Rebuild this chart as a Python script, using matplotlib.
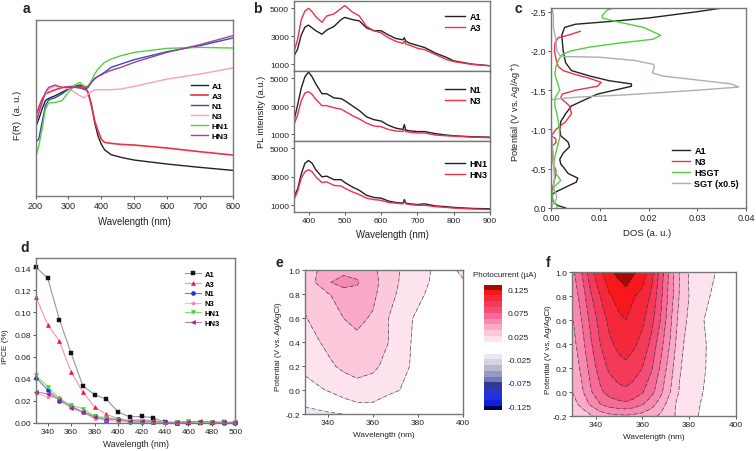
import matplotlib
matplotlib.use("Agg")
import matplotlib.pyplot as plt
import numpy as np
from matplotlib.colors import ListedColormap, BoundaryNorm

plt.rcParams['font.family'] = ['Liberation Sans', 'DejaVu Sans']
plt.rcParams['axes.unicode_minus'] = False
plt.rcParams['axes.edgecolor'] = '#777777'
plt.rcParams['axes.linewidth'] = 1.0

W, H = 756, 452

# panel a: diffuse reflectance
wl_a = [200,210,220,230,240,260,280,300,320,335,350,360,370,380,390,400,410,430,460,500,600,700,800]
a_A1 = [205,230,260,285,292,300,310,320,328,332,325,310,275,220,180,155,138,123,115,107,95,85,76]
a_A3 = [238,265,290,305,310,318,324,327,328,328,325,310,270,225,195,170,160,157,154,152,143,132,122]
a_N1 = [160,170,220,270,287,294,305,320,327,324,318,325,340,352,358,364,370,385,395,408,432,450,473]
a_N3 = [215,245,280,305,320,328,325,322,310,300,294,305,312,318,318,318,318,318,320,328,350,365,383]
a_HN1 = [112,150,200,260,278,280,285,310,332,340,328,328,345,365,380,390,400,410,420,430,442,445,443]
a_HN3 = [212,250,280,310,325,332,325,325,325,323,322,328,340,350,358,362,368,376,385,400,430,453,480]

# panel b: PL spectra
wl_b = [360,370,380,390,400,410,420,437,450,470,490,500,520,540,560,580,600,620,640,660,664,668,680,700,720,750,780,800,850,900]
b_A1 = [1600,2100,3100,3650,3800,3600,3400,3150,3450,3700,4200,4350,4200,4100,3600,3400,3400,3100,2850,2750,2900,2650,2500,2350,2200,1800,1500,1250,1020,900]
b_A3 = [1900,2800,4200,4800,5000,4750,4400,4000,4450,4600,5000,5200,4750,4450,3700,3400,3250,2900,2650,2500,2650,2450,2350,2150,2050,1700,1350,1200,1000,900]
b_N1 = [2000,3100,4300,5100,5450,5100,4600,3900,3900,3600,3550,3400,3050,2700,2250,2050,1950,1650,1450,1350,1700,1300,1250,1200,1200,1050,950,900,830,800]
b_N3 = [1700,2400,3400,3950,4050,3850,3500,3050,3050,2900,2800,2650,2350,2100,1800,1600,1550,1350,1250,1200,1350,1200,1150,1100,1100,950,900,870,800,760]
b_HN1 = [1600,2150,3200,3950,4150,3950,3500,3000,3050,2800,2800,2600,2300,2050,1700,1550,1500,1300,1200,1150,1400,1150,1100,1050,1100,950,900,850,780,750]
b_HN3 = [1400,2000,2900,3350,3500,3350,3000,2600,2650,2400,2350,2200,1950,1750,1500,1400,1350,1200,1150,1100,1250,1100,1050,1000,1000,900,850,800,740,700]

# panel c: density of states
v_A1 = [0,-.03,-.07,-.12,-.18,-.22,-.28,-.33,-.38,-.44,-.5,-.56,-.62,-.7,-.78,-.84,-.92,-1.0,-1.1,-1.2,-1.3,-1.38,-1.45,-1.5,-1.55,-1.58,-1.62,-1.68,-1.75,-1.85,-2.0,-2.2,-2.3,-2.34,-2.38,-2.42,-2.46,-2.5,-2.55]
c_A1 = [.003,.0015,.0005,.0003,.0003,.0015,.0035,.0052,.0055,.0035,.0028,.002,.0018,.0025,.0038,.0035,.002,.0018,.002,.003,.0042,.007,.0095,.013,.0165,.0165,.012,.008,.0042,.003,.0025,.0022,.0028,.005,.013,.02,.025,.03,.0355]
v_N3 = [-2.25,-2.2,-2.17,-2.1,-2.0,-1.9,-1.8,-1.75,-1.7,-1.65,-1.6,-1.55,-1.5,-1.45,-1.4,-1.3,-1.2,-1.1,-1.0,-.92,-.88,-.83,-.79,-.7,-.55,-.48,-.42,-.38,-.3,-.2]
c_N3 = [.006,.0035,.0015,.0008,.0007,.001,.0015,.0025,.005,.008,.0103,.0095,.005,.0023,.002,.0038,.0042,.003,.001,.0001,.001,.001,.0002,.0003,.0005,.001,.001,.0008,.0005,.0001]
v_HSGT = [-2.55,-2.52,-2.45,-2.42,-2.38,-2.3,-2.2,-2.15,-2.1,-2.05,-2.0,-1.95,-1.88,-1.8,-1.7,-1.6,-1.5,-1.4,-1.3,-1.2,-1.1,-1.0,-.9,-.8,-.7,-.6,-.52,-.45,-.4,-.35,-.28,-.2,-.1,-.03,0]
c_HSGT = [.013,.0115,.0105,.0105,.013,.019,.0225,.021,.014,.008,.004,.0022,.0015,.001,.0008,.0013,.0018,.0008,.0008,.0012,.0015,.0017,.0018,.0014,.001,.0006,.0006,.0008,.0015,.002,.0008,.0002,.0003,.0012,.0012]
v_SGT = [-2.55,-2.45,-2.3,-2.15,-2.0,-1.93,-1.92,-1.88,-1.83,-1.8,-1.72,-1.68,-1.63,-1.58,-1.54,-1.5,-1.44,-1.41,-1.38,-1.0,-.8,-.6,-.4,-.25,-.15,-.1,-.05,0]
c_SGT = [.0002,.0005,.0005,.001,.0012,.002,.01,.017,.021,.0212,.0208,.023,.03,.037,.0385,.03,.015,.005,0,.0001,.0003,.0005,.0007,.0005,.0012,.001,.0004,0]

# panel d: IPCE
wl_d = [330,340,350,360,370,380,390,400,410,420,430,440,450,460,470,480,490,500]
d_A1 = [.141,.131,.0935,.063,.0335,.0255,.0215,.0100,.0055,.0060,.0048,.0005,.0003,.0003,.0003,.0003,.0005,.0003]
d_A3 = [.114,.089,.074,.046,.028,.0145,.0078,.004,.002,.002,.001,.0012,.0003,.0006,.0005,.001,.0005,.001]
d_N1 = [.041,.030,.020,.015,.010,.006,.002,.004,.0005,.001,.001,.0005,.0003,.0005,.0005,.0005,.0003,.0003]
d_N3 = [.027,.0235,.0235,.0135,.0095,.004,.003,.001,.003,.003,.002,.001,.0003,.001,.0005,.001,.0005,.0005]
d_HN1 = [.043,.033,.022,.016,.013,.006,.005,.003,.0005,.001,.001,0,.001,.0015,.0005,.0005,.0005,.0003]
d_HN3 = [.028,.0265,.021,.014,.010,.005,.004,.003,.002,.002,.002,.0005,.0005,.001,.0015,.001,.0005,.0005]

# panel e: photocurrent map, in units of 0.0125 uA
wl_e = [330,340,347,353,360,367,372,377,385,392,400]
pot_e = [-0.2,-0.1,0.0,0.2,0.4,0.6,0.8,0.9,1.0]
z_e = [
    [-1.6,-1.3,-1.02,-0.8,-0.7,-0.7,-0.5,-0.3,-0.2,-0.1,0.0],
    [-0.6,0.2,0.8,1.0,1.0,0.5,0.2,0.1,0.0,0.0,0.0],
    [0.6,1.05,1.35,1.5,1.5,1.3,1.0,0.7,0.3,0.1,0.0],
    [1.27,1.8,2.2,2.5,2.2,1.7,1.35,0.95,0.4,0.2,0.1],
    [1.6,2.2,2.6,2.8,2.5,2.0,1.5,1.0,0.5,0.2,0.1],
    [1.95,2.6,3.0,3.2,2.9,2.0,1.5,1.05,0.5,0.3,0.2],
    [2.2,2.9,3.5,3.7,3.2,2.4,1.8,1.3,0.9,0.5,0.6],
    [2.3,3.9,4.4,4.1,3.3,2.5,1.95,1.5,1.0,0.6,0.9],
    [2.3,3.6,3.7,3.7,3.2,2.5,2.0,1.6,1.05,0.6,1.2],
]

# panel f: photocurrent map, in units of 0.0125 uA
wl_f = [330,334,338,342,346,350,353,356,360,364,368,372,376,380,386,392,400]
pot_f = [-0.2,-0.1,0.0,0.2,0.4,0.6,0.8,1.0]
z_f = [
    [2.0,2.4,2.9,3.4,3.7,3.8,3.85,3.75,3.6,3.3,2.8,2.3,1.7,1.2,0.9,0.5,0.2],
    [2.6,3.3,4.2,5.0,5.5,5.7,5.8,5.6,5.1,4.4,3.5,2.5,1.6,1.2,0.95,0.5,0.2],
    [3.0,3.8,4.9,5.8,6.4,6.7,6.8,6.6,6.1,5.3,4.2,3.0,1.9,1.4,1.0,0.5,0.2],
    [3.3,4.2,5.4,6.5,7.2,7.6,7.7,7.5,7.0,6.1,4.8,3.4,2.1,1.5,1.1,0.6,0.2],
    [3.6,4.6,5.9,7.0,7.8,8.3,8.6,8.2,7.7,6.7,5.3,3.9,2.3,1.6,1.12,0.6,0.2],
    [3.9,5.0,6.3,7.4,8.3,8.8,9.0,8.7,8.2,7.3,5.9,4.2,2.6,1.8,1.03,0.6,0.2],
    [4.3,5.4,6.9,8.0,8.9,9.4,9.7,9.1,8.7,7.8,6.2,4.5,2.9,2.0,1.3,0.7,0.2],
    [4.7,6.0,7.7,8.8,9.8,10.3,10.5,10.2,9.6,8.4,6.5,4.6,3.0,1.9,1.4,0.95,0.3],
]

level_units = [-11,-10,-9,-8,-7,-6,-5,-4,-3,-2,-1,1,2,3,4,5,6,7,8,9,10,10.8]
level_colors = ['#000050','#1020d8','#2030e0','#2a38c0','#303a90','#7078c0',
                '#9898c0','#b8b8d0','#d5d5e2','#e8e8f0','#ffffff',
                '#fde3ee','#fcc9dc','#faa9c8','#f88ab0','#f66c96','#f44d78','#f33a58',
                '#f4283a','#f8181c','#a80808']

cbar_ticks = [-0.125,-0.075,-0.025,0.025,0.075,0.125]
cbar_labels = ['-0.125','-0.075','-0.025','0.025','0.075','0.125']

BLACK, RED, BLUE, PINK, GREEN, PURPLE = '#222222', '#f0304a', '#3a4ab0', '#ff9cc0', '#50d040', '#a0409a'

fig = plt.figure(figsize=(W / 100, H / 100), dpi=100)


def add_axes(left, top, right, bottom):
    return fig.add_axes([left / W, 1 - bottom / H, (right - left) / W, (bottom - top) / H])


def put(x, y, s, **kw):
    kw.setdefault('ha', 'center')
    kw.setdefault('va', 'center')
    kw.setdefault('fontsize', 7)
    kw.setdefault('color', '#222222')
    fig.text(x / W, 1 - y / H, s, **kw)


def style(ax, size=6.5):
    ax.tick_params(direction='out', length=2, width=0.7, color='#555555', labelsize=size,
                   labelcolor='#222222', pad=1.5)


def small_legend(ax, x, y, size=6, spacing=0.6, hl=3.0):
    ax.legend(loc='upper left', bbox_to_anchor=(x, y), frameon=False, borderpad=0, borderaxespad=0,
              prop={'size': size, 'weight': 'bold'}, labelspacing=spacing, handlelength=hl,
              handletextpad=0.5)


# a
ax = add_axes(35.5, 20.7, 232.7, 196.7)
for vals, col, name, lw in [(a_A1, BLACK, 'A1', 1.0), (a_A3, RED, 'A3', 1.2), (a_N1, BLUE, 'N1', 1.0),
                            (a_N3, PINK, 'N3', 1.0), (a_HN1, GREEN, 'HN1', 1.0), (a_HN3, PURPLE, 'HN3', 1.0)]:
    ax.plot(wl_a, vals, color=col, lw=lw, label=name)
ax.set_xlim(200, 800)
ax.set_ylim(0, 528)
ax.set_xticks(range(200, 801, 100))
ax.set_yticks([])
style(ax)
small_legend(ax, 0.789, 0.646, size=6, spacing=0.27, hl=2.0)
put(26, 9, 'a', fontsize=10, fontweight='bold')
put(17.3, 115, 'F(R)  (a. u.)', rotation=90, fontsize=6.8)
put(134, 222, 'Wavelength (nm)', fontsize=6.9)

# b
b_tops = [(2, 72), (72, 142), (142, 213)]
b_sets = [(b_A1, b_A3, 'A1', 'A3'), (b_N1, b_N3, 'N1', 'N3'), (b_HN1, b_HN3, 'HN1', 'HN3')]
b_legend_y = [0.84, 0.80, 0.75]
for i, ((top, bottom), (v1, v3, n1, n3)) in enumerate(zip(b_tops, b_sets)):
    ax = add_axes(294, top, 490, bottom)
    ax.plot(wl_b, v1, color=BLACK, lw=1.0, label=n1)
    ax.plot(wl_b, v3, color=RED, lw=1.0, label=n3)
    ax.set_xlim(360, 900)
    ax.set_ylim(527, 5520)
    ax.set_yticks([1000, 3000, 5000])
    ax.set_xticks(range(400, 901, 100))
    style(ax, 6)
    if i < 2:
        ax.tick_params(axis='x', length=0, labelbottom=False)
    small_legend(ax, 0.77, b_legend_y[i], size=6.5, spacing=0.22, hl=2.2)
put(257, 9, 'b', fontsize=10, fontweight='bold')
put(261, 112, 'PL intensity (a.u.)', rotation=90, fontsize=6.7)
put(392, 235, 'Wavelength (nm)', fontsize=6.9)

# c
ax = add_axes(551, 9, 746, 209)
ax.plot(c_A1, v_A1, color=BLACK, lw=1.0, label='A1')
ax.plot(c_N3, v_N3, color=RED, lw=1.0, label='N3')
ax.plot(c_HSGT, v_HSGT, color=GREEN, lw=1.0, label='HSGT')
ax.plot(c_SGT, v_SGT, color='#a8b0b0', lw=1.0, label='SGT (x0.5)')
ax.set_xlim(0, 0.04)
ax.set_ylim(0, -2.547)
ax.set_xticks([0, 0.01, 0.02, 0.03, 0.04])
ax.set_xticklabels(['0.00', '0.01', '0.02', '0.03', '0.04'])
ax.set_yticks([0, -0.5, -1.0, -1.5, -2.0, -2.5])
ax.set_yticklabels(['0.0', '-0.5', '-1.0', '-1.5', '-2.0', '-2.5'])
style(ax)
small_legend(ax, 0.62, 0.308, size=6.5, spacing=0.22, hl=2.0)
put(518, 9, 'c', fontsize=10, fontweight='bold')
put(517, 112, 'Potential (V vs. Ag/Ag$^{+}$)', rotation=90, fontsize=6.7)
put(647, 234, 'DOS (a. u.)', fontsize=6.8)

# d
ax = add_axes(36, 259.3, 235.3, 424)
for vals, col, mfc, mk, name in [(d_A1, '#909898', '#111111', 's', 'A1'), (d_A3, '#ff90b0', '#f01030', '^', 'A3'),
                                 (d_N1, '#7080a0', '#2030e0', 'o', 'N1'), (d_N3, '#ffb0c0', '#ff7090', '*', 'N3'),
                                 (d_HN1, '#80e070', '#40d030', 'v', 'HN1'), (d_HN3, '#c080b0', '#a02090', '<', 'HN3')]:
    ax.plot(wl_d, vals, color=col, lw=0.8, marker=mk, ms=3, mfc=mfc, mec=mfc, mew=0.3, label=name,
            clip_on=False)
ax.set_xlim(330, 500)
ax.set_ylim(0, 0.149)
ax.set_xticks(range(340, 501, 20))
ax.set_yticks(np.arange(0, 0.141, 0.02))
ax.set_yticklabels(['0.00', '0.02', '0.04', '0.06', '0.08', '0.10', '0.12', '0.14'])
style(ax, 6)
small_legend(ax, 0.75, 0.926, size=5.5, spacing=0.32, hl=2.0)
put(25, 248, 'd', fontsize=10, fontweight='bold')
put(5.7, 347, 'IPCE (%)', rotation=90, fontsize=6)
put(136, 445, 'Wavelength (nm)', fontsize=6.2)

# e, f
levels = np.array(level_units) * 0.0125
cmap = ListedColormap(level_colors)
norm = BoundaryNorm(levels, cmap.N)

for box, wl, pot, z, lab in [((305.3, 271.3, 462.7, 415.3), wl_e, pot_e, z_e, (279, 263, 279, 346.7, 384, 436)),
                             ((572.3, 273, 735.7, 417), wl_f, pot_f, z_f, (548, 263, 548, 350, 654, 438))]:
    ax = add_axes(*box)
    zz = np.array(z) * 0.0125
    ax.contourf(wl, pot, zz, levels=levels, cmap=cmap, norm=norm, extend='neither')
    ax.contour(wl, pot, zz, levels=levels, colors='#333344', linewidths=0.45, linestyles='-.')
    ax.set_xlim(330, 400)
    ax.set_ylim(-0.2, 1.0)
    ax.set_xticks([340, 360, 380, 400])
    ax.set_yticks(np.arange(-0.2, 1.01, 0.2))
    ax.set_yticklabels(['-0.2', '0.0', '0.2', '0.4', '0.6', '0.8', '1.0'])
    style(ax, 6)
    put(lab[0], lab[1], 'e' if wl is wl_e else 'f', fontsize=10, fontweight='bold')
    put(lab[2], lab[3], 'Potential (V vs. Ag/AgCl)', rotation=90, fontsize=5.9)
    put(lab[4], lab[5], 'Wavelength (nm)', fontsize=5.9)

# colour bar
cax = add_axes(484, 285.7, 502, 411)
bar = np.linspace(-0.1335, 0.135, 200).reshape(-1, 1)
cax.pcolormesh([0, 1], np.linspace(-0.1335, 0.135, 201), bar, cmap=cmap, norm=norm)
cax.set_xticks([])
cax.yaxis.tick_right()
cax.set_yticks(cbar_ticks)
cax.set_yticklabels(cbar_labels)
cax.tick_params(length=0, labelsize=6, pad=4)
for lbl, col in zip(cax.get_yticklabels(), ['#1a1a80', '#1a1a80', '#222222', '#222222', '#222222', '#222222']):
    lbl.set_color(col)
for s in cax.spines.values():
    s.set_visible(False)
put(505, 275.5, 'Photocurrent (\u00b5A)', fontsize=5.8)

fig.savefig('out.png', dpi=100)
